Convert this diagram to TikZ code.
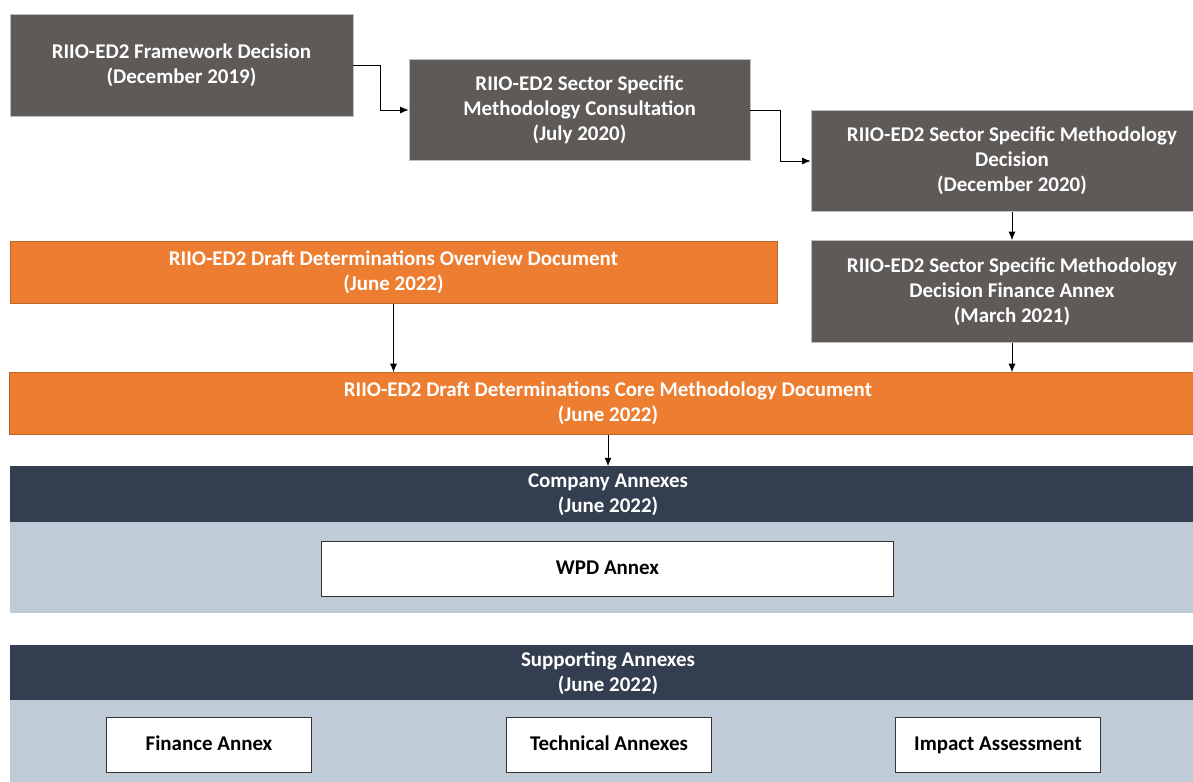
\documentclass[tikz,border=0pt]{standalone}
\usepackage{fontspec}
\setmainfont{Carlito}
\usetikzlibrary{arrows.meta,positioning,calc}
\definecolor{docgray}{RGB}{94,90,88}
\definecolor{docorange}{RGB}{237,125,49}
\definecolor{docnavy}{RGB}{51,63,80}
\definecolor{docband}{RGB}{192,203,216}
\tikzset{>={Latex[length=6pt,width=5pt]}}
\tikzset{
  grybox/.style={fill=docgray, draw=black!25, line width=0.6pt, text=white, align=center, inner sep=0pt},
  orgbox/.style={fill=docorange, draw=docorange!80!black, line width=0.5pt, text=white, align=center, inner sep=0pt},
  hdrbox/.style={fill=docnavy, text=white, align=center, inner sep=0pt, minimum width=29.9cm},
  bandbox/.style={fill=docband, inner sep=0pt, minimum width=29.9cm, minimum height=2.25cm},
  annbox/.style={fill=white, draw=black!80, line width=0.7pt, text=black, align=center, inner sep=0pt, minimum height=1.375cm, text height=2.3ex, text depth=0.4ex},
  link/.style={->, line width=0.6pt}
}

\begin{document}
\begin{tikzpicture}[x=0.025cm, y=-0.025cm, font=\fontsize{14.9}{17.7}\selectfont\bfseries]
\useasboundingbox (0,0) rectangle (1193,782);
% methodology documents
\node[grybox, minimum width=8.575cm, minimum height=2.55cm] (frame) at (181.5,65.5) {RIIO-ED2 Framework Decision\\(December 2019)};
\node[grybox, minimum width=8.525cm, minimum height=2.525cm] (consult) at (579.5,110) {RIIO-ED2 Sector Specific\\Methodology Consultation\\(July 2020)};
\node[grybox, minimum width=10.05cm, minimum height=2.525cm] (decide) at (1012,161) {RIIO-ED2 Sector Specific Methodology\\Decision\\(December 2020)};
\node[grybox, minimum width=10.05cm, minimum height=2.55cm] (finann) at (1012,291.5) {RIIO-ED2 Sector Specific Methodology\\Decision Finance Annex\\(March 2021)};
% draft determinations
\node[orgbox, minimum width=19.175cm, minimum height=1.55cm] (overview) at (393.5,272.5) {RIIO-ED2 Draft Determinations Overview Document\\(June 2022)};
\node[orgbox, minimum width=29.9cm, minimum height=1.55cm] (core) at (608,403.5) {RIIO-ED2 Draft Determinations Core Methodology Document\\(June 2022)};
% company annexes
\node[hdrbox, minimum height=1.4cm] (company) at (608,494.5) {Company Annexes\\(June 2022)};
\node[bandbox] (compband) at (608,567.5) {};
\node[annbox, minimum width=14.275cm] (wpd) at (607.5,568.5) {WPD Annex};
% supporting annexes
\node[hdrbox, minimum height=1.375cm] (support) at (608,673) {Supporting Annexes\\(June 2022)};
\node[bandbox] (supband) at (608,745.5) {};
\node[annbox, minimum width=5.1cm] (finance) at (209,744.5) {Finance Annex};
\node[annbox, minimum width=5.1cm] (technical) at (609,744.5) {Technical Annexes};
\node[annbox, minimum width=5.1cm] (impact) at (998,744.5) {Impact Assessment};

\draw[link] (frame.east) -- ++(27,0) |- (consult.west);
\draw[link] (consult.east) -- ++(30,0) |- (decide.west);
\draw[link] (decide.south) -- (finann.north);
\draw[link] (overview.south) -- (overview.south |- core.north);
\draw[link] (finann.south) -- (finann.south |- core.north);
\draw[link] (core.south) -- (company.north);
\end{tikzpicture}
\end{document}
